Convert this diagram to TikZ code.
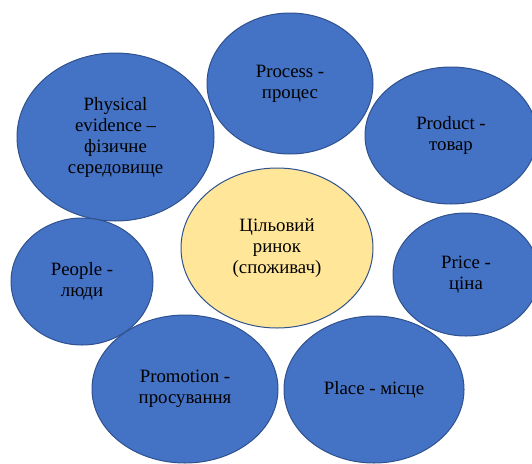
\documentclass[tikz,border=0pt]{standalone}
\usepackage{fontspec}
\setmainfont{Liberation Serif}
\usetikzlibrary{shapes.geometric}
\definecolor{bblue}{HTML}{4472C4}
\definecolor{bord}{HTML}{2F528F}
\definecolor{byel}{HTML}{FFE699}
\tikzset{
  bub/.style={ellipse, draw=bord, fill=bblue, line width=1pt, inner sep=0pt,
    align=center, text=black, font=\fontsize{18.8}{21}\selectfont},
  core/.style={bub, fill=byel},
}
\begin{document}
\begin{tikzpicture}[x=1pt,y=-1pt]
\useasboundingbox (0,0) rectangle (532,463);
\clip (0,0) rectangle (532,463);
\node[bub, minimum width=166pt, minimum height=141pt] (process) at (290,83.5) {Process -\\процес};
\node[bub, minimum width=197pt, minimum height=168pt] (physical) at (115.5,137) {Physical\\evidence –\\фізичне\\середовище};
\node[bub, minimum width=172pt, minimum height=137pt] (product) at (451,135.5) {Product -\\товар};
\node[bub, minimum width=142pt, minimum height=127pt] (people) at (82,281.5) {People -\\люди};
\node[bub, minimum width=146pt, minimum height=123pt] (price) at (466,274.5) {Price -\\ціна};
\node[core, minimum width=192pt, minimum height=160pt] (target) at (277,248) {Цільовий\\ринок\\(споживач)};
\node[bub, minimum width=186pt, minimum height=148pt] (promotion) at (185,389) {Promotion -\\просування};
\node[bub, minimum width=180pt, minimum height=147pt] (place) at (374,389.5) {Place - місце};
\end{tikzpicture}
\end{document}
